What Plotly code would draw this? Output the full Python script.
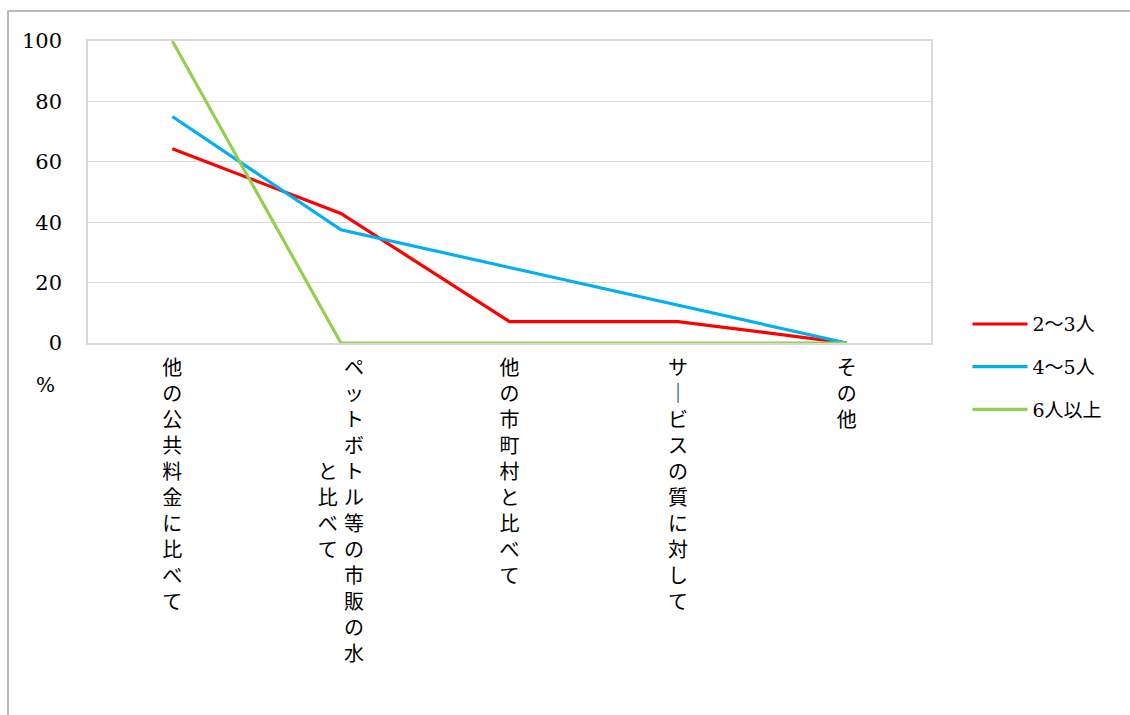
import plotly.graph_objects as go

categories = ["他の公共料金に比べて", "ペットボトル等の市販の水と比べて", "他の市町村と比べて", "サービスの質に対して", "その他"]
series_names = ["2～3人", "4～5人", "6人以上"]
values_2_3 = [64.3, 42.9, 7.1, 7.1, 0]
values_4_5 = [75.0, 37.5, 25.0, 12.5, 0]
values_6 = [100, 0, 0, 0, 0]
colors = ["#FF0000", "#00B0F0", "#92D050"]
y_ticks = [0, 20, 40, 60, 80, 100]

VMAP = {"ー": "｜"}
FONT = "DejaVu Serif, Noto Sans CJK JP, serif"


def vertical(label, colsize=12):
    cols = [label[i:i + colsize] for i in range(0, len(label), colsize)]
    n = len(cols[0])
    lines = []
    for r in range(n):
        parts = []
        for c in reversed(cols):
            off = (n - len(c)) // 2
            ch = c[r - off] if 0 <= r - off < len(c) else "\u3000"
            parts.append(VMAP.get(ch, ch))
        lines.append(" ".join(parts))
    return "<br>".join(lines)


fig = go.Figure()
for name, vals, col in zip(series_names, [values_2_3, values_4_5, values_6], colors):
    fig.add_trace(go.Scatter(x=categories, y=vals, name=name, mode="lines",
                             line=dict(color=col, width=3.2), legendgroup=name))

fig.update_layout(
    width=1130, height=715,
    margin=dict(l=88, r=199, t=41, b=372),
    paper_bgcolor="white", plot_bgcolor="white",
    font=dict(family=FONT, size=20, color="#000000"),
    showlegend=True,
    legend=dict(x=1.0433, y=-0.08, xanchor="left", yanchor="middle",
                font=dict(size=19, family=FONT), tracegroupgap=15,
                traceorder="grouped", itemwidth=55, bgcolor="rgba(0,0,0,0)"),
)
fig.update_xaxes(
    type="category", tickmode="array", tickvals=categories,
    ticktext=[vertical(c) for c in categories], tickangle=0,
    showgrid=False, showline=True, linecolor="#d9d9d9", linewidth=1.5, mirror=True,
    ticks="", tickfont=dict(size=20, family=FONT), range=[-0.5, 4.5],
    ticklabelstandoff=6,
)
fig.update_yaxes(
    range=[0, 100], tickmode="array", tickvals=y_ticks,
    showgrid=True, gridcolor="#d9d9d9", gridwidth=1.2,
    showline=True, linecolor="#d9d9d9", linewidth=1.5, mirror=True,
    zeroline=False, ticks="", tickfont=dict(size=21, family=FONT),
    ticklabelstandoff=20,
)
fig.add_annotation(text="%", x=-0.051, y=-0.139, xref="paper", yref="paper",
                   showarrow=False, xanchor="center", yanchor="middle",
                   font=dict(size=20, family=FONT))
# outer chart frame
fig.add_shape(type="rect", xref="paper", yref="paper",
              x0=-0.0949, x1=1.25, y0=-1.5, y1=1.0993,
              line=dict(color="#a6a6a6", width=1.5), layer="below")

fig.write_html("out.html")
